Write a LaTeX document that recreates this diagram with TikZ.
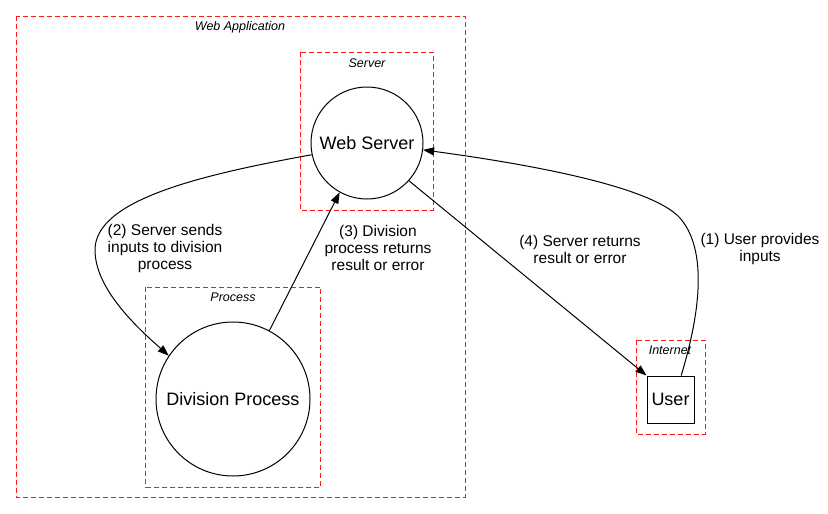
\documentclass[tikz,border=0pt]{standalone}
\usepackage{fontspec}
\setmainfont{Liberation Sans}
\usetikzlibrary{arrows.meta}
\tikzset{
    cluster/.style={draw=red!90!white, line width=1pt, dash pattern=on 5pt off 3pt},
    clusterlabel/.style={font=\fontsize{12.5}{14}\selectfont\itshape, inner sep=0pt},
    roundnode/.style={draw, circle, line width=1pt, inner sep=0pt, font=\fontsize{18}{20}\selectfont},
    boxnode/.style={draw, rectangle, line width=1pt, inner sep=0pt, minimum size=47pt, font=\fontsize{18}{20}\selectfont},
    edgelabel/.style={align=center, inner sep=0pt, font=\fontsize{15.5}{17}\selectfont},
    flow/.style={line width=1pt, -{Triangle[length=11pt,width=8pt]}}
}
\begin{document}
\begin{tikzpicture}[x=1pt,y=-1pt]
                    \useasboundingbox (0,0) rectangle (828,514);
                    % clusters
                    \draw[cluster] (16,16) rectangle (465,497);
                    \draw[cluster] (300,52) rectangle (433,210);
                    \draw[cluster] (145.5,287) rectangle (320.5,487);
                    \draw[cluster] (636,340) rectangle (705,434);
                    \node[clusterlabel] (webapp) at (240,27) {Web Application};
                    \node[clusterlabel] (server) at (367,63) {Server};
                    \node[clusterlabel] (process) at (233,297) {Process};
                    \node[clusterlabel] (internet) at (670,350) {Internet};
                    % nodes
                    \node[roundnode, minimum size=112pt] (ws) at (367,143) {Web Server};
                    \node[roundnode, minimum size=154pt] (dp) at (233,399) {Division Process};
                    \node[boxnode] (user) at (670.5,399.5) {User};
                    % edges
                    \draw[flow] (user.66) .. controls (695,330) and (712,255) .. (680,218)
                        .. controls (650,185) and (520,163) .. (ws.353);
                    \draw[flow] (ws.192) .. controls (200,175) and (95,200) .. (95,250)
                        .. controls (95,290) and (140,330) .. (dp.146);
                    \draw[flow] (dp.62) -- (ws.241);
                    \draw[flow] (ws.318) -- (user.north west);
                    % edge labels
                    \node[edgelabel] (l1) at (760,249) {(1) User provides\\inputs};
                    \node[edgelabel] (l2) at (165,248) {(2) Server sends\\inputs to division\\process};
                    \node[edgelabel] (l3) at (378,248) {(3) Division\\process returns\\result or error};
                    \node[edgelabel] (l4) at (580,249) {(4) Server returns\\result or error};
                \end{tikzpicture}
\end{document}
